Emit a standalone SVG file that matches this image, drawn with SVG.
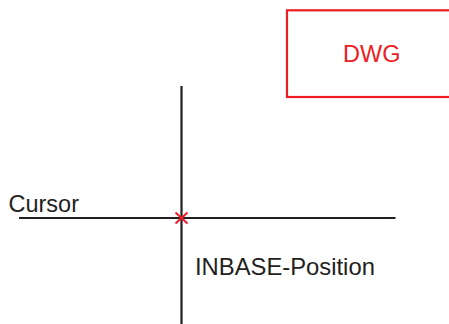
<svg xmlns="http://www.w3.org/2000/svg" width="449" height="324" viewBox="0 0 449 324">
  <style>
    .axis { stroke: #231f20; stroke-width: 2.2; fill: none; }
    .mark { stroke: #ed1c24; stroke-width: 2; fill: none; }
    .label { font-family: "Liberation Sans", Arial, sans-serif; font-size: 23.5px; fill: #231f20; }
    .dwg { fill: #fff; stroke: #ed1c24; stroke-width: 2.2; }
    .dwg-text { font-family: "Liberation Sans", Arial, sans-serif; font-size: 23.5px; fill: #ed1c24; }
  </style>
  <rect width="449" height="324" fill="#fff"/>
  <g id="dwg">
    <rect class="dwg" x="287" y="10.3" width="200" height="86.7"/>
    <text class="dwg-text" x="343" y="62">DWG</text>
  </g>
  <g id="connectors">
    <line class="axis" x1="181.5" y1="86" x2="181.5" y2="324"/>
    <line class="axis" x1="19" y1="218" x2="395.5" y2="218"/>
  </g>
  <g id="cursor">
    <text class="label" x="8.5" y="211.5">Cursor</text>
  </g>
  <g id="inbase-position">
    <path class="mark" d="M175.5 212.5 L187.5 223.5 M187.5 212.5 L175.5 223.5"/>
    <text class="label" x="195" y="275" style="font-size:23.8px">INBASE-Position</text>
  </g>
</svg>
